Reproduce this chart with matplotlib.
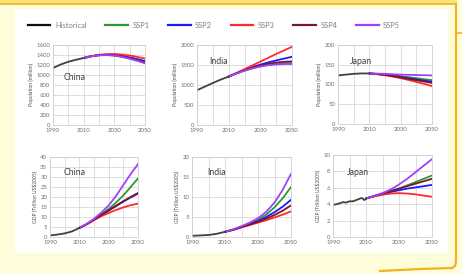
import matplotlib
matplotlib.use("Agg")
import matplotlib.pyplot as plt
from matplotlib.lines import Line2D
from matplotlib.patches import Rectangle

plt.rcParams['font.family'] = ['Lato', 'DejaVu Sans']

# ---------------- data ----------------
series_names = ["Historical", "SSP1", "SSP2", "SSP3", "SSP4", "SSP5"]
series_colors = ["#202020", "#2e9a2e", "#1a1aff", "#ff2a2a", "#7a1530", "#a040ff"]

years_hist = [1990, 1995, 2000, 2005, 2010]
years_proj = [2010, 2015, 2020, 2025, 2030, 2035, 2040, 2045, 2050]

china_pop_hist = [1140, 1210, 1265, 1305, 1340]
china_pop = {
    "SSP1": [1340, 1375, 1395, 1400, 1390, 1365, 1330, 1290, 1240],
    "SSP2": [1340, 1375, 1398, 1405, 1400, 1382, 1352, 1318, 1280],
    "SSP3": [1340, 1378, 1405, 1418, 1420, 1410, 1390, 1362, 1330],
    "SSP4": [1340, 1376, 1397, 1402, 1395, 1372, 1340, 1300, 1255],
    "SSP5": [1340, 1375, 1394, 1398, 1388, 1362, 1326, 1284, 1235],
}

india_pop_hist = [870, 960, 1050, 1135, 1210]
india_pop = {
    "SSP1": [1210, 1290, 1360, 1420, 1470, 1505, 1530, 1545, 1550],
    "SSP2": [1210, 1295, 1375, 1445, 1510, 1565, 1615, 1660, 1705],
    "SSP3": [1210, 1300, 1395, 1490, 1585, 1680, 1775, 1865, 1955],
    "SSP4": [1210, 1295, 1370, 1435, 1490, 1530, 1560, 1580, 1590],
    "SSP5": [1210, 1290, 1358, 1415, 1462, 1495, 1515, 1525, 1525],
}

japan_pop_hist = [123, 125, 127, 128, 128]
japan_pop = {
    "SSP1": [128, 127, 125.5, 123.5, 121, 118.5, 116, 113.5, 111],
    "SSP2": [128, 126.5, 124.5, 122, 119, 116, 113, 110, 107],
    "SSP3": [128, 126, 123.5, 120, 116, 111.5, 106.5, 101.5, 96],
    "SSP4": [128, 126.5, 124.5, 121.5, 118, 114.5, 111, 107.5, 104],
    "SSP5": [128, 127.5, 127, 126, 125, 124.5, 124, 123.5, 123],
}

china_gdp_hist = [0.8, 1.2, 1.8, 2.8, 4.5]
china_gdp = {
    "SSP1": [4.5, 6.4, 8.8, 11.4, 14.0, 17.2, 20.8, 25.0, 29.3],
    "SSP2": [4.5, 6.4, 8.7, 11.0, 13.2, 15.5, 17.7, 19.8, 21.7],
    "SSP3": [4.5, 6.3, 8.4, 10.4, 12.0, 13.5, 14.8, 15.9, 16.7],
    "SSP4": [4.5, 6.4, 8.7, 11.0, 13.3, 15.6, 17.9, 20.0, 22.0],
    "SSP5": [4.5, 6.5, 9.1, 12.2, 15.8, 20.5, 26.0, 31.5, 36.5],
}

india_gdp_hist = [0.3, 0.4, 0.5, 0.8, 1.3]
india_gdp = {
    "SSP1": [1.3, 1.9, 2.6, 3.4, 4.3, 5.6, 7.4, 9.7, 12.5],
    "SSP2": [1.3, 1.8, 2.5, 3.2, 4.0, 5.0, 6.2, 7.6, 9.3],
    "SSP3": [1.3, 1.8, 2.4, 3.0, 3.6, 4.2, 4.9, 5.6, 6.4],
    "SSP4": [1.3, 1.8, 2.5, 3.1, 3.8, 4.6, 5.5, 6.6, 7.9],
    "SSP5": [1.3, 1.9, 2.7, 3.6, 4.7, 6.3, 8.6, 11.8, 15.8],
}

japan_gdp_years_hist = [1990, 1992, 1994, 1996, 1998, 2000, 2002, 2004, 2006, 2007, 2008, 2009, 2010]
japan_gdp_hist = [3.9, 4.0, 4.1, 4.25, 4.2, 4.35, 4.35, 4.5, 4.65, 4.75, 4.7, 4.5, 4.65]
japan_gdp = {
    "SSP1": [4.7, 5.0, 5.3, 5.6, 5.9, 6.3, 6.7, 7.1, 7.5],
    "SSP2": [4.7, 5.0, 5.3, 5.5, 5.7, 5.9, 6.05, 6.2, 6.35],
    "SSP3": [4.7, 4.95, 5.15, 5.3, 5.35, 5.3, 5.2, 5.05, 4.9],
    "SSP4": [4.7, 5.0, 5.3, 5.6, 5.9, 6.2, 6.5, 6.8, 7.1],
    "SSP5": [4.7, 5.0, 5.35, 5.8, 6.4, 7.1, 7.9, 8.7, 9.5],
}

x_ticks = [1990, 2010, 2030, 2050]
pop_label = "Population (million)"
gdp_label = "GDP (Trillion US$2005)"

# ---------------- figure ----------------
W, H = 462, 274
fig = plt.figure(figsize=(W / 100, H / 100), dpi=100)
fig.patch.set_facecolor("#fffcd9")

def fx(px):
    return px / W

def fy(py):
    return 1 - py / H

# white panel
fig.patches.append(Rectangle((fx(15), fy(253)), fx(448) - fx(15), fy(9) - fy(253),
                             transform=fig.transFigure, facecolor="white", edgecolor="none", zorder=-5))
# top yellow band
fig.patches.append(Rectangle((0, fy(5)), fx(457), fy(0) - fy(5),
                             transform=fig.transFigure, facecolor="#fbe37a", edgecolor="none", zorder=-5))
# orange border lines
orange = "#f2b320"
fig.lines.append(Line2D([fx(0), fx(456)], [fy(4), fy(4)], transform=fig.transFigure, color=orange, lw=1.2))
fig.lines.append(Line2D([fx(456), fx(456), fx(455), fx(452)], [fy(4), fy(262), fy(266), fy(268)],
                        transform=fig.transFigure, color=orange, lw=1.6))
fig.lines.append(Line2D([fx(456), fx(462)], [fy(33), fy(33)], transform=fig.transFigure, color=orange, lw=1.2))
fig.lines.append(Line2D([fx(380), fx(420), fx(452)], [fy(271), fy(269), fy(268)],
                        transform=fig.transFigure, color=orange, lw=1.6))

panels = [
    ((53, 145, 45, 125), "China", years_hist, china_pop_hist, china_pop, (0, 1600),
     list(range(0, 1601, 200)), pop_label, (0.12, 0.60)),
    ((197, 292, 45, 125), "India", years_hist, india_pop_hist, india_pop, (0, 2000),
     list(range(0, 2001, 500)), pop_label, (0.13, 0.79)),
    ((338, 432, 45, 124), "Japan", years_hist, japan_pop_hist, japan_pop, (0, 200),
     list(range(0, 201, 50)), pop_label, (0.13, 0.79)),
    ((50, 138, 157, 237), "China", years_hist, china_gdp_hist, china_gdp, (0, 40),
     list(range(0, 41, 5)), gdp_label, (0.16, 0.81)),
    ((192, 291, 157, 237), "India", years_hist, india_gdp_hist, india_gdp, (0, 20),
     list(range(0, 21, 5)), gdp_label, (0.15, 0.81)),
    ((333, 432, 155, 237), "Japan", japan_gdp_years_hist, japan_gdp_hist, japan_gdp, (0, 10),
     list(range(0, 11, 2)), gdp_label, (0.14, 0.79)),
]

tick_color = "#707070"
for (l, r, t, b), name, yh, vh, proj, ylim, yticks, ylab, lpos in panels:
    ax = fig.add_axes([fx(l), fy(b), fx(r) - fx(l), fy(t) - fy(b)])
    ax.set_zorder(2)
    ax.set_facecolor("white")
    ax.set_xlim(1990, 2050)
    ax.set_ylim(*ylim)
    ax.set_xticks(x_ticks)
    ax.set_xticks(list(range(1990, 2051, 10)), minor=True)
    ax.set_yticks(yticks)
    ax.grid(True, which="both", color="#d8d8d8", lw=0.6)
    ax.tick_params(which="both", length=0, labelsize=4.3, labelcolor=tick_color, pad=2)
    for s in ax.spines.values():
        s.set_color("#cfcfcf")
        s.set_linewidth(0.6)
    ax.set_axisbelow(True)
    ax.set_ylabel(ylab, fontsize=3.6, color="#505050", labelpad=2)
    for key in ["SSP1", "SSP2", "SSP3", "SSP4", "SSP5"]:
        ci = series_names.index(key)
        ax.plot(years_proj, proj[key], color=series_colors[ci], lw=1.3, solid_capstyle="round")
    ax.plot(yh, vh, color="#404040", lw=1.3)
    ax.text(lpos[0], lpos[1], name, transform=ax.transAxes, fontsize=6.3, color="#404040",
            ha="left", va="center")

handles = [Line2D([], [], color=c, lw=1.6) for c in series_colors]
handles[0] = Line2D([], [], color="#101010", lw=1.6)
leg = fig.legend(handles, series_names, loc="center", bbox_to_anchor=(fx(214), fy(25)),
                 ncol=6, frameon=False, fontsize=5.4, handlelength=3.0, handletextpad=0.6,
                 columnspacing=2.5, labelcolor="#808080")
leg.set_zorder(3)

fig.savefig("out.png", dpi=100, facecolor=fig.get_facecolor())
